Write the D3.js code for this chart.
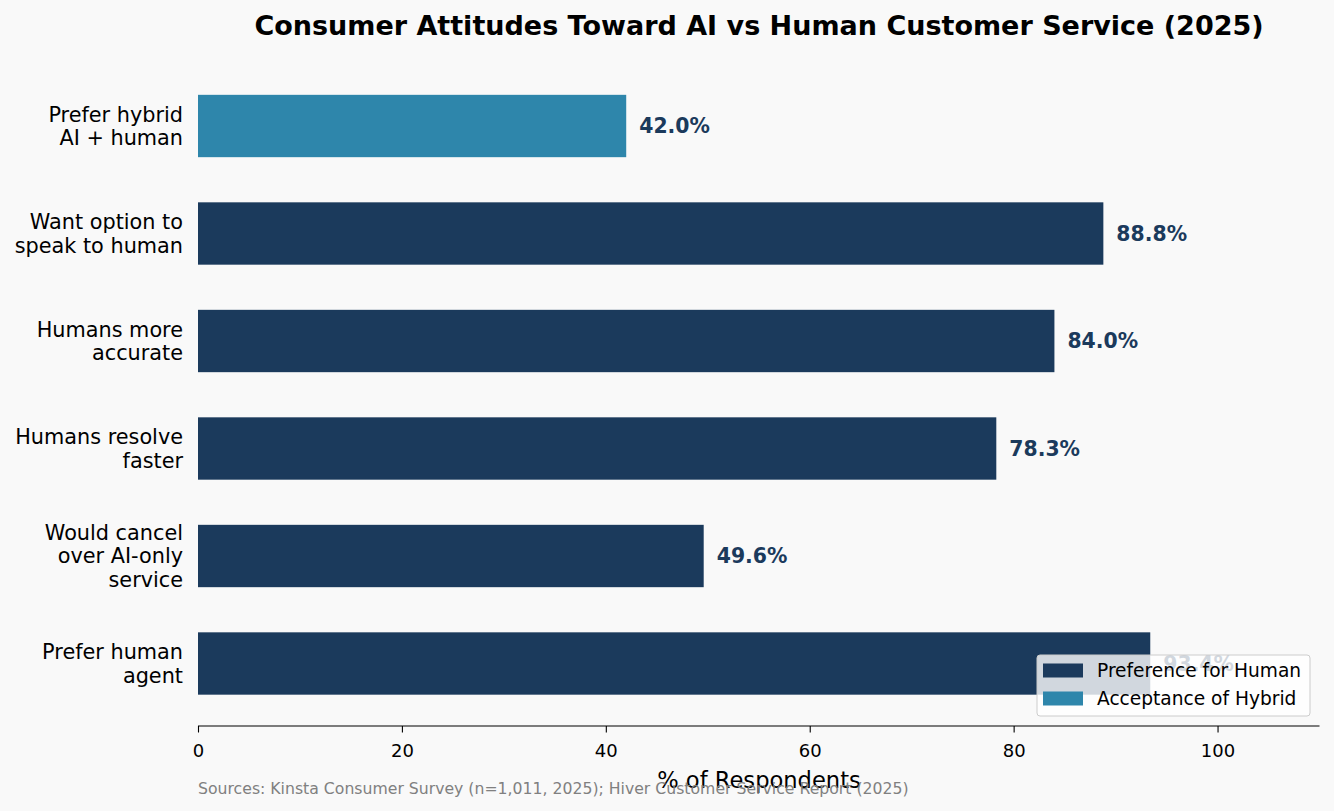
<!DOCTYPE html>
<html><head><meta charset="utf-8">
<script src="https://cdn.jsdelivr.net/npm/d3@7"></script>
<style>body{margin:0;background:#f9f9f9;font-family:"DejaVu Sans",sans-serif;}</style>
</head><body><svg id="c" width="1334" height="811" font-family="DejaVu Sans"></svg>
<script>
const categories = [["Prefer hybrid","AI + human"],["Want option to","speak to human"],["Humans more","accurate"],["Humans resolve","faster"],["Would cancel","over AI-only","service"],["Prefer human","agent"]];
const values = [42.0, 88.8, 84.0, 78.3, 49.6, 93.4];
const groups = ["hybrid","human","human","human","human","human"];
const xTicks = [0,20,40,60,80,100];
const legendLabels = ["Preference for Human","Acceptance of Hybrid"];
const colors = {human:"#1b3a5c", hybrid:"#2e86ab"};

const svg = d3.select("#c");
svg.append("rect").attr("width",1334).attr("height",811).attr("fill","#f9f9f9");
const x = d3.scaleLinear().domain([0,110]).range([198,1319.5]);
const y = d3.scalePoint().domain(d3.range(values.length)).range([126,663.5]);
const bh = y.step()*0.58;

svg.append("text").attr("x",759).attr("y",35).attr("text-anchor","middle")
  .attr("font-size","27px").attr("font-weight","bold").text("Consumer Attitudes Toward AI vs Human Customer Service (2025)");

svg.selectAll("rect.bar").data(values).enter().append("rect").attr("class","bar")
  .attr("x",x(0)).attr("y",(d,i)=>y(i)-bh/2).attr("width",d=>x(d)-x(0)).attr("height",bh)
  .attr("fill",(d,i)=>colors[groups[i]]);

svg.selectAll("text.val").data(values).enter().append("text").attr("class","val")
  .attr("x",d=>x(d)+13).attr("y",(d,i)=>y(i)).attr("dy","0.36em")
  .attr("font-size","20.4px").attr("font-weight","bold").attr("fill","#1b3a5c")
  .text(d=>d.toFixed(1)+"%");

categories.forEach((lines,i)=>{
  const lh=23.5, n=lines.length;
  const t=svg.append("text").attr("text-anchor","end").attr("font-size","20.8px").attr("fill","#000");
  lines.forEach((l,j)=>{
    t.append("tspan").attr("x",183).attr("y",y(i)+(j-(n-1)/2)*lh).attr("dy","0.36em").text(l);
  });
});

const ax = svg.append("g").attr("transform","translate(0,726)")
  .call(d3.axisBottom(x).tickValues(xTicks).tickSize(6.5).tickPadding(11.5).tickFormat(d3.format("d")));
ax.attr("font-size",null).attr("font-family",null);
ax.select(".domain").attr("stroke","#000").attr("stroke-width",1.2).attr("d","M198,0H1319.5");
ax.selectAll(".tick line").attr("stroke","#000").attr("stroke-width",1.1);
ax.selectAll(".tick text").attr("font-size","18px").attr("fill","#000").attr("dy","0.71em");

svg.append("text").attr("x",759).attr("y",788).attr("text-anchor","middle").attr("font-size","22.6px").text("% of Respondents");
svg.append("text").attr("x",198).attr("y",794).attr("font-size","15.7px").attr("fill","#808080")
  .text("Sources: Kinsta Consumer Survey (n=1,011, 2025); Hiver Customer Service Report (2025)");

const lg = svg.append("g");
lg.append("rect").attr("x",1037).attr("y",655).attr("width",273).attr("height",61).attr("rx",3)
  .attr("fill","#ffffff").attr("fill-opacity",0.8).attr("stroke","#cccccc").attr("stroke-width",1);
legendLabels.forEach((l,i)=>{
  const yy = 670.5 + i*28;
  lg.append("rect").attr("x",1043).attr("y",yy-7).attr("width",40).attr("height",14).attr("fill",i===0?colors.human:colors.hybrid);
  lg.append("text").attr("x",1097).attr("y",yy).attr("dy","0.36em").attr("font-size","18.6px").text(l);
});
</script></body></html>
